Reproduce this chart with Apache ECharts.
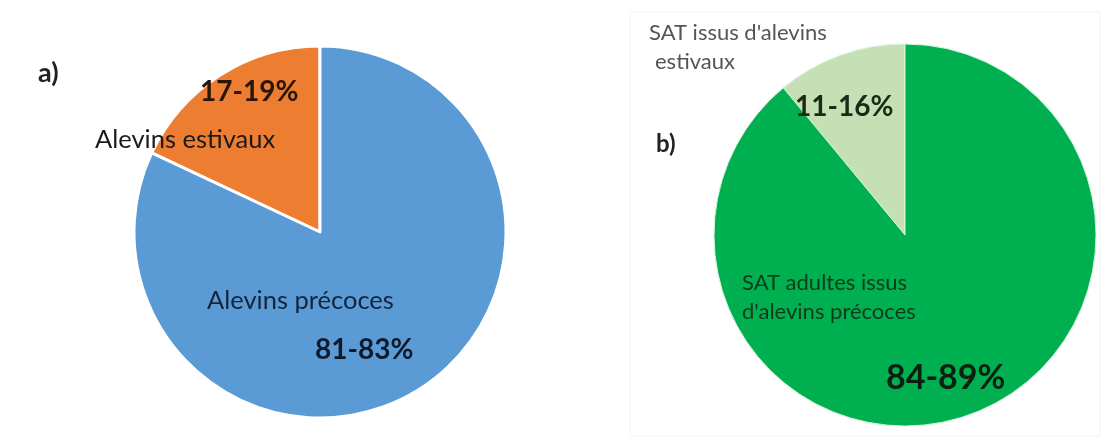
<!DOCTYPE html>
<html>
<head>
<meta charset="utf-8">
<script src="https://cdn.jsdelivr.net/npm/echarts@6/dist/echarts.min.js"></script>
<style>
  html, body { margin: 0; padding: 0; background: #fff; }
  #main { width: 1102px; height: 441px; }
</style>
</head>
<body>
<div id="main"></div>
<script>
// données
var catsA = ['Alevins estivaux', 'Alevins précoces'];
var valsA = [18, 82];
var rangesA = ['17-19%', '81-83%'];

var catsB = ["SAT issus d'alevins estivaux", "SAT adultes issus d'alevins précoces"];
var valsB = [11, 89];
var rangesB = ['11-16%', '84-89%'];

var colorsA = ['#ed7d31', '#5b9bd5'];
var colorsB = ['#c5e0b4', '#00b050'];

var font = 'Lato, "Open Sans", sans-serif';

function txt(text, x, y, size, bold, color) {
    return {
        type: 'text',
        x: x,
        y: y,
        z: 100,
        silent: true,
        style: {
            text: text,
            fill: color || '#1a1a1a',
            font: (bold ? 'bold ' : '') + size + 'px ' + font,
            textAlign: 'left',
            textVerticalAlign: 'middle'
        }
    };
}

var myChart = echarts.init(document.getElementById('main'));

var option = {
    backgroundColor: '#fff',
    animation: false,
    graphic: [
        // cadre léger du panneau b
        {
            type: 'rect',
            shape: { x: 630, y: 12, width: 470, height: 424 },
            style: { fill: 'none', stroke: '#f3f3f3', lineWidth: 1 },
            silent: true,
            z: -10
        },
        txt('a)', 38, 73, 27, true, '#222'),
        txt(rangesA[0], 200, 92, 28, true, '#2a1608'),
        txt(catsA[0], 95, 140, 25.5, false, '#1a1a1a'),
        txt(catsA[1], 207, 301, 25.5, false, '#14243a'),
        txt(rangesA[1], 315, 350, 28, true, '#0e1a2a'),

        txt("SAT issus d'alevins", 649, 33, 22, false, '#555'),
        txt('estivaux', 655, 62, 22, false, '#555'),
        txt('b)', 656, 144, 24, true, '#222'),
        txt(rangesB[0], 795, 107, 28, true, '#1a2a14'),
        txt('SAT adultes issus', 742, 283, 22, false, '#0e3a1c'),
        txt("d'alevins précoces", 742, 312, 22, false, '#0e3a1c'),
        txt(rangesB[1], 886, 378, 34, true, '#0a1f0f')
    ],
    series: [
        {
            name: 'a',
            type: 'pie',
            center: [320, 232],
            radius: 186,
            startAngle: 90,
            clockwise: false,
            label: { show: false },
            labelLine: { show: false },
            itemStyle: { borderColor: '#fff', borderWidth: 3 },
            data: catsA.map(function (c, i) {
                return { name: c, value: valsA[i], itemStyle: { color: colorsA[i] } };
            })
        },
        {
            name: 'b',
            type: 'pie',
            center: [905, 235],
            radius: 191,
            startAngle: 90,
            clockwise: false,
            label: { show: false },
            labelLine: { show: false },
            itemStyle: { borderColor: '#d8f5dc', borderWidth: 1 },
            data: catsB.map(function (c, i) {
                return { name: c, value: valsB[i], itemStyle: { color: colorsB[i] } };
            })
        }
    ]
};

myChart.setOption(option);
</script>
</body>
</html>
